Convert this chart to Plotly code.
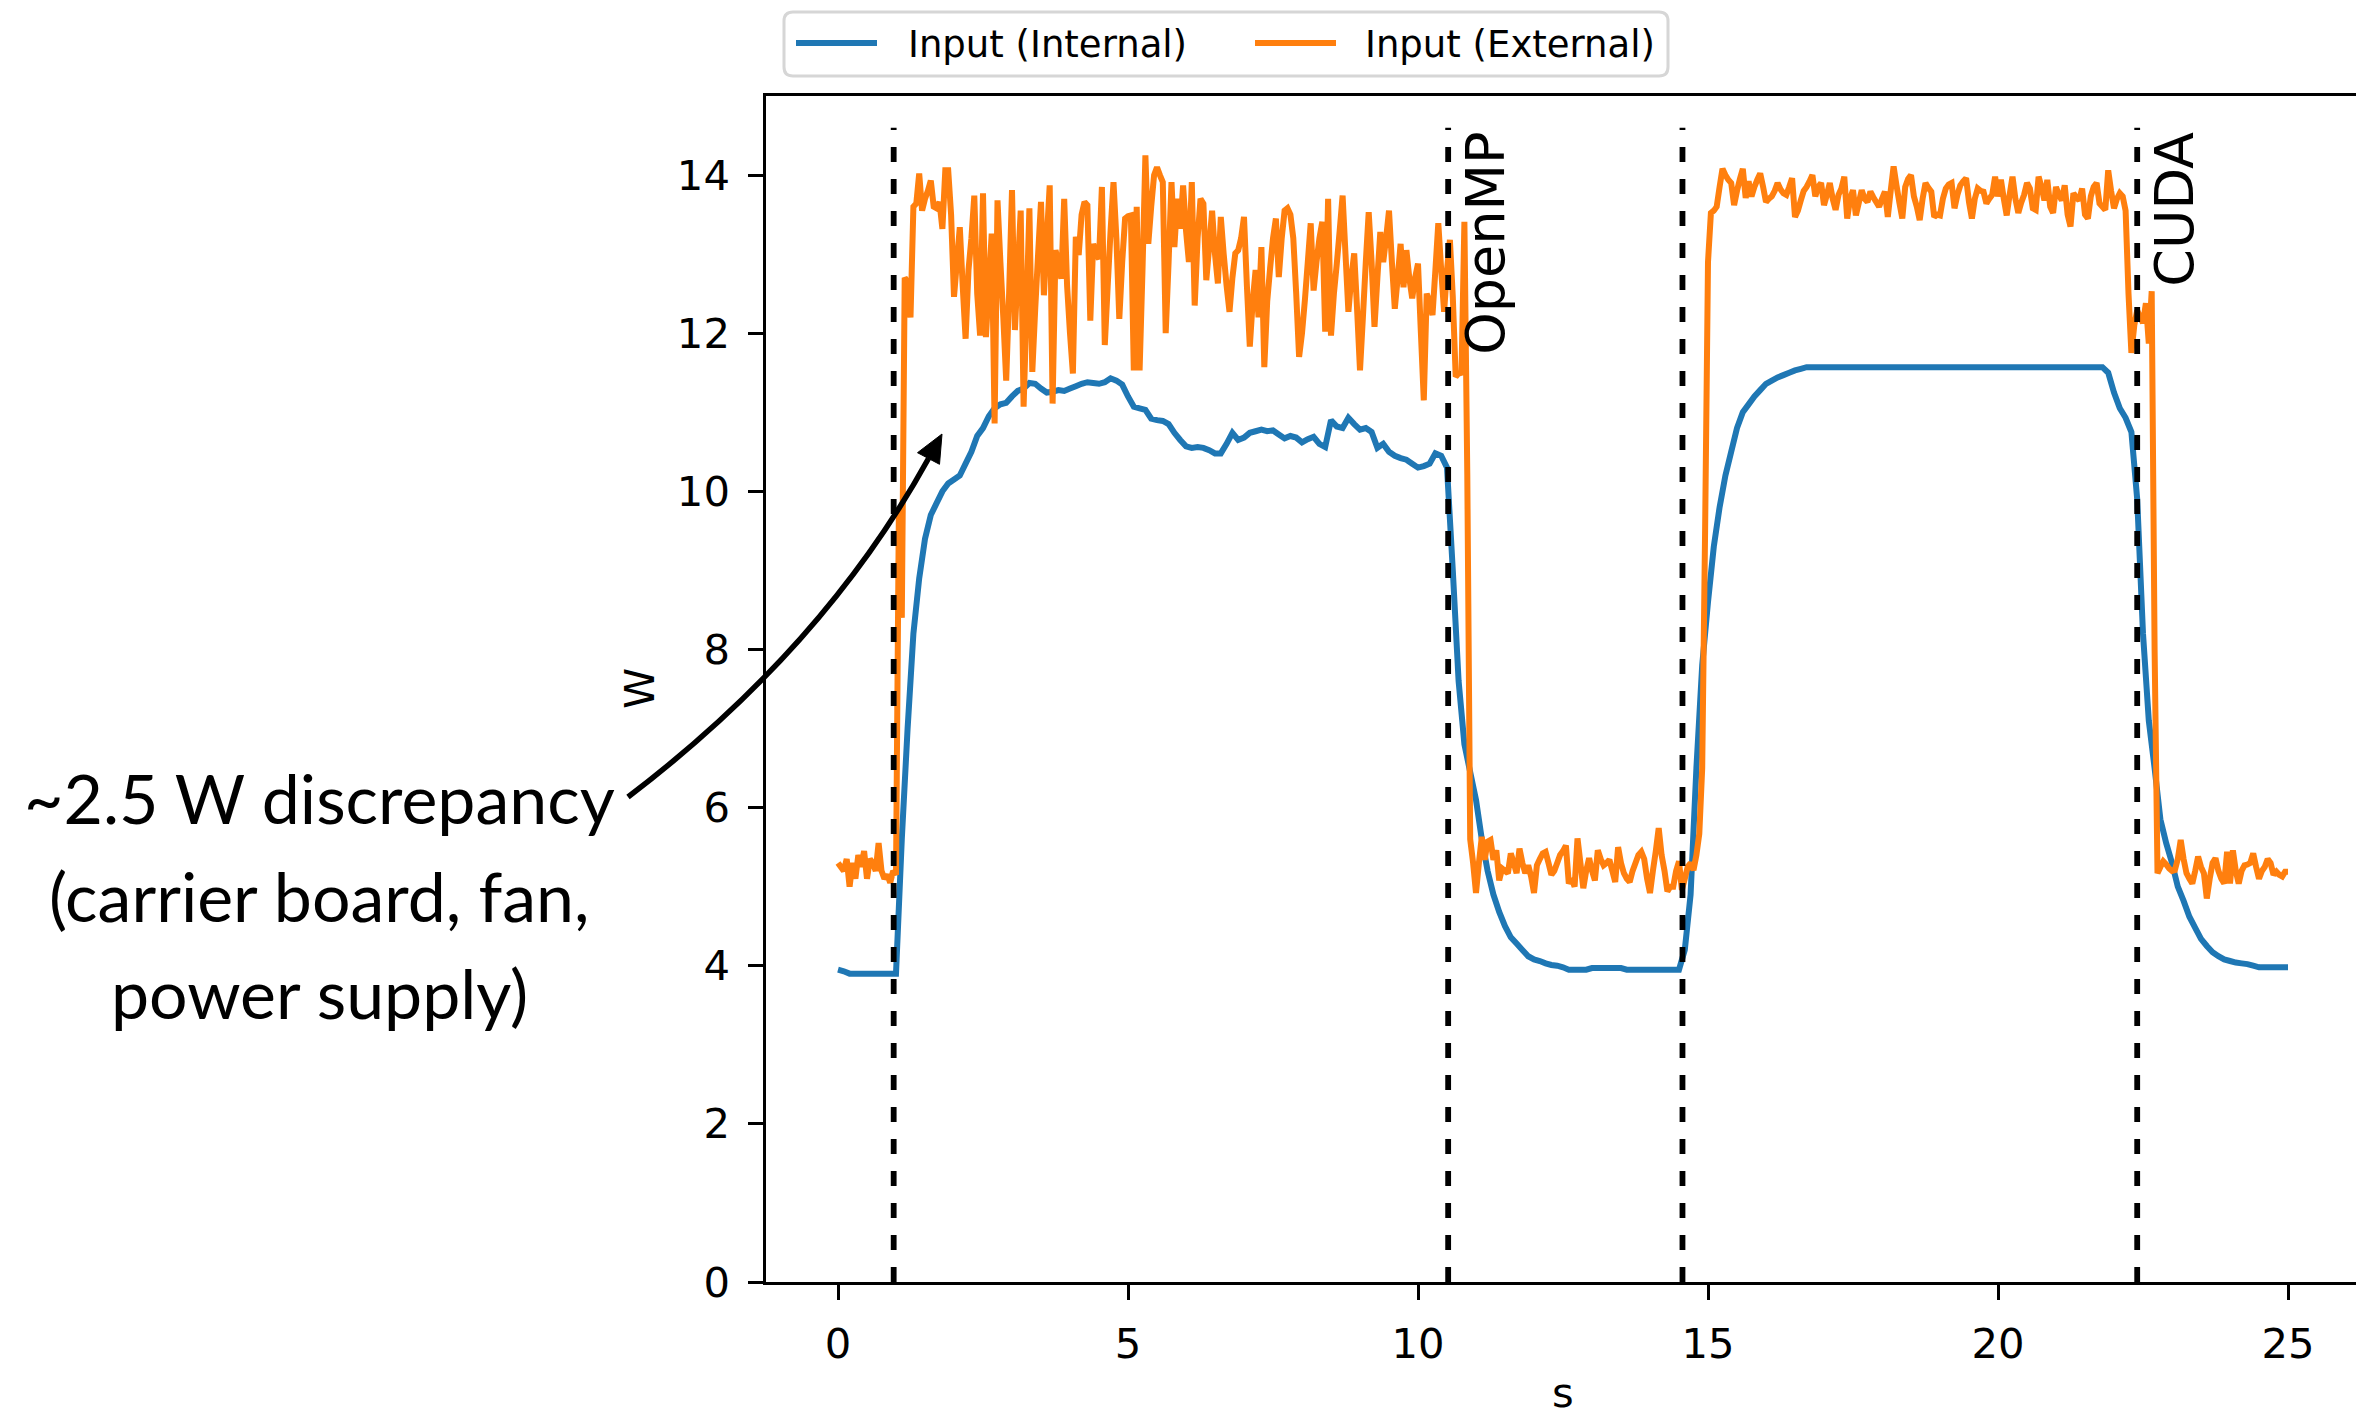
import numpy as np
import plotly.graph_objects as go

# ---------------- data ----------------
# Internal input power, sampled every 0.1 s from 0 to 25 s
w_int = [
    3.95, 3.93, 3.90, 3.90, 3.90, 3.90, 3.90, 3.90, 3.90, 3.90,
    3.90, 5.60, 7.00, 8.20, 8.90, 9.40, 9.70, 9.85, 10.00, 10.10,
    10.15, 10.20, 10.35, 10.50, 10.70, 10.80, 10.95, 11.05, 11.10, 11.12,
    11.20, 11.27, 11.30, 11.37, 11.36, 11.30, 11.25, 11.26, 11.28, 11.27,
    11.30, 11.33, 11.36, 11.38, 11.37, 11.36, 11.38, 11.43, 11.40, 11.35,
    11.20, 11.07, 11.05, 11.03, 10.92, 10.90, 10.89, 10.85, 10.74, 10.65,
    10.57, 10.55, 10.56, 10.55, 10.52, 10.48, 10.48, 10.60, 10.74, 10.65,
    10.68, 10.74, 10.76, 10.78, 10.76, 10.77, 10.72, 10.67, 10.70, 10.68,
    10.62, 10.66, 10.69, 10.60, 10.56, 10.90, 10.82, 10.80, 10.93, 10.85,
    10.78, 10.80, 10.75, 10.55, 10.60, 10.50, 10.45, 10.42, 10.40, 10.35,
    10.30, 10.32, 10.35, 10.48, 10.45, 10.30, 9.00, 7.60, 6.80, 6.45,
    6.10, 5.60, 5.20, 4.90, 4.68, 4.50, 4.36, 4.28, 4.20, 4.12,
    4.08, 4.06, 4.03, 4.01, 4.00, 3.98, 3.95, 3.95, 3.95, 3.95,
    3.97, 3.97, 3.97, 3.97, 3.97, 3.97, 3.95, 3.95, 3.95, 3.95,
    3.95, 3.95, 3.95, 3.95, 3.95, 3.95, 4.20, 4.90, 6.50, 7.80,
    8.60, 9.30, 9.80, 10.20, 10.50, 10.80, 11.00, 11.10, 11.20, 11.28,
    11.36, 11.40, 11.44, 11.47, 11.50, 11.53, 11.55, 11.57, 11.57, 11.57,
    11.57, 11.57, 11.57, 11.57, 11.57, 11.57, 11.57, 11.57, 11.57, 11.57,
    11.57, 11.57, 11.57, 11.57, 11.57, 11.57, 11.57, 11.57, 11.57, 11.57,
    11.57, 11.57, 11.57, 11.57, 11.57, 11.57, 11.57, 11.57, 11.57, 11.57,
    11.57, 11.57, 11.57, 11.57, 11.57, 11.57, 11.57, 11.57, 11.57, 11.57,
    11.57, 11.57, 11.57, 11.57, 11.57, 11.57, 11.57, 11.57, 11.57, 11.50,
    11.25, 11.05, 10.93, 10.75, 9.90, 8.20, 7.10, 6.50, 5.85, 5.55,
    5.30, 5.00, 4.82, 4.62, 4.48, 4.34, 4.25, 4.17, 4.12, 4.08,
    4.06, 4.04, 4.03, 4.02, 4.00, 3.98, 3.98, 3.98, 3.98, 3.98,
    3.98,
]

# External input power, sampled every 0.05 s from 0 to 25 s
w_ext = [
    5.30, 5.25, 5.20, 5.35, 5.00, 5.30, 5.10, 5.40, 5.25, 5.45, 5.10, 5.35, 5.30, 5.20, 5.55, 5.20, 5.10, 5.15, 5.05, 5.20,
    5.15, 9.80, 8.40, 12.70, 12.65, 12.20, 13.60, 13.64, 14.02, 13.55, 13.70, 13.80, 13.93, 13.60, 13.58, 13.66, 13.32, 14.06, 14.06, 13.50,
    12.46, 12.90, 13.34, 12.60, 11.93, 12.80, 13.20, 13.74, 12.50, 11.97, 13.77, 11.95, 12.60, 13.26, 10.86, 13.68, 12.90, 12.20, 11.40, 12.50,
    13.81, 12.04, 12.80, 13.55, 11.07, 12.30, 13.58, 11.51, 12.30, 13.00, 13.66, 12.48, 13.20, 13.87, 11.11, 13.05, 12.90, 12.69, 13.70, 12.60,
    12.00, 11.49, 13.22, 12.99, 13.50, 13.66, 13.62, 12.16, 13.13, 13.00, 12.94, 13.85, 11.85, 12.60, 13.30, 13.91, 13.20, 12.18, 12.90, 13.45,
    13.48, 13.49, 11.53, 13.60, 11.53, 12.80, 14.25, 13.13, 13.60, 14.00, 14.10, 14.00, 13.91, 12.00, 12.90, 13.91, 13.09, 13.70, 13.32, 13.87,
    13.30, 12.90, 13.91, 12.35, 13.20, 13.70, 13.64, 12.67, 13.10, 13.55, 13.00, 12.63, 13.47, 13.00, 12.60, 12.27, 12.70, 13.01, 13.05, 13.20,
    13.47, 12.60, 11.83, 12.40, 12.80, 12.20, 13.09, 11.57, 12.40, 12.82, 13.20, 13.45, 12.71, 13.20, 13.55, 13.58, 13.50, 13.20, 12.50, 11.70,
    12.00, 12.42, 12.90, 13.39, 12.54, 12.90, 13.20, 13.41, 12.02, 13.70, 11.97, 12.50, 12.88, 13.30, 13.74, 13.00, 12.27, 12.70, 13.01, 12.30,
    11.53, 12.20, 12.90, 13.53, 12.90, 12.08, 12.70, 13.28, 12.90, 13.20, 13.55, 12.90, 12.31, 12.70, 13.13, 12.58, 13.05, 12.70, 12.44, 12.70,
    12.88, 12.00, 11.15, 12.50, 12.40, 12.23, 12.80, 13.39, 12.80, 12.27, 12.80, 13.18, 12.46, 11.45, 11.49, 11.50, 13.41, 10.20, 5.60, 5.30,
    4.92, 5.30, 5.63, 5.34, 5.57, 5.59, 5.34, 5.46, 5.08, 5.23, 5.20, 5.17, 5.42, 5.30, 5.17, 5.48, 5.30, 5.17, 5.27, 5.13,
    4.92, 5.27, 5.35, 5.42, 5.44, 5.30, 5.15, 5.20, 5.30, 5.40, 5.45, 5.52, 5.04, 5.10, 5.00, 5.61, 5.30, 4.98, 5.20, 5.36,
    5.20, 5.08, 5.46, 5.35, 5.27, 5.30, 5.34, 5.20, 5.06, 5.50, 5.30, 5.17, 5.10, 5.06, 5.20, 5.30, 5.40, 5.44, 5.35, 5.10,
    4.92, 5.20, 5.45, 5.74, 5.40, 5.20, 4.94, 5.00, 5.00, 5.20, 5.32, 4.96, 5.10, 5.25, 5.30, 5.21, 5.40, 5.67, 6.50, 9.50,
    12.90, 13.52, 13.55, 13.60, 13.85, 14.08, 14.00, 13.94, 13.90, 13.62, 13.80, 13.95, 14.08, 13.71, 13.92, 13.73, 13.85, 13.94, 14.02, 13.85,
    13.66, 13.70, 13.73, 13.80, 13.90, 13.82, 13.77, 13.75, 13.85, 13.96, 13.47, 13.55, 13.68, 13.80, 13.85, 13.92, 14.00, 13.73, 13.85, 13.90,
    13.62, 13.75, 13.90, 13.70, 13.56, 13.75, 13.83, 13.98, 13.45, 13.70, 13.81, 13.49, 13.65, 13.81, 13.70, 13.66, 13.79, 13.72, 13.66, 13.60,
    13.70, 13.79, 13.47, 13.80, 14.11, 13.87, 13.65, 13.45, 13.85, 13.95, 14.00, 13.73, 13.60, 13.43, 13.70, 13.90, 13.84, 13.79, 13.47, 13.50,
    13.49, 13.70, 13.83, 13.88, 13.90, 13.58, 13.75, 13.87, 13.92, 13.96, 13.66, 13.45, 13.70, 13.83, 13.80, 13.79, 13.64, 13.70, 13.75, 13.98,
    13.73, 13.94, 13.70, 13.49, 13.75, 13.98, 13.70, 13.52, 13.65, 13.75, 13.90, 13.83, 13.58, 13.56, 13.98, 13.85, 13.68, 13.94, 13.60, 13.52,
    13.85, 13.75, 13.68, 13.87, 13.50, 13.35, 13.77, 13.72, 13.68, 13.83, 13.50, 13.45, 13.73, 13.85, 13.90, 13.64, 13.60, 13.56, 14.06, 13.80,
    13.58, 13.70, 13.77, 13.73, 13.55, 12.50, 11.75, 12.10, 12.29, 12.20, 12.13, 12.38, 11.87, 12.53, 8.00, 5.17, 5.25, 5.32, 5.28, 5.23,
    5.20, 5.21, 5.35, 5.59, 5.35, 5.17, 5.10, 5.04, 5.20, 5.38, 5.25, 5.17, 4.85, 5.10, 5.30, 5.36, 5.20, 5.10, 5.04, 5.44,
    5.04, 5.46, 5.20, 5.04, 5.20, 5.27, 5.28, 5.30, 5.42, 5.25, 5.10, 5.20, 5.25, 5.35, 5.30, 5.15, 5.19, 5.15, 5.13, 5.19,
    5.19,
]

dt_int = 0.1
dt_ext = 0.05
t_int = np.round(np.arange(len(w_int)) * dt_int, 3)
t_ext = np.round(np.arange(len(w_ext)) * dt_ext, 3)

series_names = ["Input (Internal)", "Input (External)"]
series_colors = ["#1f77b4", "#ff7f0e"]

events = [0.96, 10.52, 14.56, 22.40]
event_labels = ["", "OpenMP", "", "CUDA"]
event_top = 14.6

x_ticks = [0, 5, 10, 15, 20, 25]
y_ticks = [0, 2, 4, 6, 8, 10, 12, 14]

note_lines = ["~2.5 W discrepancy", "(carrier board, fan,", "power supply)"]

# ---------------- layout geometry (window pixels) ----------------
FIG_W, FIG_H = 2356, 1421
L_S, T_S, B_S = 766, 96, 1282          # plot area left, top, bottom
R_S = FIG_W                            # plot area runs to the right edge
PW, PH = R_S - L_S, B_S - T_S


def PX(px):
    return (px - L_S) / PW


def PY(py):
    return (B_S - py) / PH


fig = go.Figure()
fig.add_trace(go.Scatter(x=t_int, y=w_int, mode="lines", name=series_names[0],
                         line=dict(color=series_colors[0], width=6, simplify=False),
                         showlegend=False))
fig.add_trace(go.Scatter(x=t_ext, y=w_ext, mode="lines", name=series_names[1],
                         line=dict(color=series_colors[1], width=6, simplify=False),
                         showlegend=False))

shapes = []
annotations = []

# dashed event markers
for ex, lab in zip(events, event_labels):
    shapes.append(dict(type="line", xref="x", yref="y", x0=ex, x1=ex, y0=0, y1=event_top,
                       line=dict(color="black", width=5.8, dash="15px,17px"), layer="above"))
    if lab:
        annotations.append(dict(x=ex + 0.64, y=14.57, xref="x", yref="y", text=lab,
                                textangle=-90, showarrow=False, xanchor="center", yanchor="top",
                                font=dict(family="DejaVu Sans", size=54, color="black")))

# manual legend (matplotlib-style)
lx0, lx1, ly0, ly1, r = 784, 1668, 12, 76, 9


def rounded_rect(x0, y0, x1, y1, rad):
    return (f"M {PX(x0 + rad)},{PY(y0)} L {PX(x1 - rad)},{PY(y0)} "
            f"Q {PX(x1)},{PY(y0)} {PX(x1)},{PY(y0 + rad)} L {PX(x1)},{PY(y1 - rad)} "
            f"Q {PX(x1)},{PY(y1)} {PX(x1 - rad)},{PY(y1)} L {PX(x0 + rad)},{PY(y1)} "
            f"Q {PX(x0)},{PY(y1)} {PX(x0)},{PY(y1 - rad)} L {PX(x0)},{PY(y0 + rad)} "
            f"Q {PX(x0)},{PY(y0)} {PX(x0 + rad)},{PY(y0)} Z")


shapes.append(dict(type="path", xref="paper", yref="paper", path=rounded_rect(lx0, ly0, lx1, ly1, r),
                   line=dict(color="#d6d6d6", width=3), fillcolor="rgba(255,255,255,0.8)", layer="above"))
leg_items = [(796, 877, 906), (1255, 1336, 1363)]
for (sx0, sx1, tx), name, col in zip(leg_items, series_names, series_colors):
    shapes.append(dict(type="line", xref="paper", yref="paper", x0=PX(sx0), x1=PX(sx1), y0=PY(43), y1=PY(43),
                       line=dict(color=col, width=6), layer="above"))
    annotations.append(dict(x=PX(tx), y=PY(44), xref="paper", yref="paper", text=name, showarrow=False,
                            xanchor="left", yanchor="middle",
                            font=dict(family="DejaVu Sans", size=37, color="black")))

# curved annotation arrow
p0 = (628, 797)
c = (824, 648)
tip = (942, 434)
base = (928.5, 458.5)
shapes.append(dict(type="path", xref="paper", yref="paper",
                   path=f"M {PX(p0[0])},{PY(p0[1])} Q {PX(c[0])},{PY(c[1])} {PX(base[0])},{PY(base[1])}",
                   line=dict(color="black", width=5.5), layer="above"))
shapes.append(dict(type="path", xref="paper", yref="paper",
                   path=(f"M {PX(tip[0])},{PY(tip[1])} L {PX(939.5)},{PY(464.3)} "
                         f"L {PX(917.5)},{PY(452.7)} Z"),
                   line=dict(color="black", width=1), fillcolor="black", layer="above"))

for line_text, cy in zip(note_lines, [797, 895, 993]):
    annotations.append(dict(x=PX(319), y=PY(cy), xref="paper", yref="paper", text=line_text,
                            showarrow=False, xanchor="center", yanchor="middle",
                            font=dict(family="Lato", size=68, color="black")))

# axis titles
annotations.append(dict(x=PX(639), y=PY(689), xref="paper", yref="paper", text="W", textangle=-90,
                        showarrow=False, xanchor="center", yanchor="middle",
                        font=dict(family="DejaVu Sans", size=41.7, color="black")))
annotations.append(dict(x=PX(1563), y=PY(1392), xref="paper", yref="paper", text="s",
                        showarrow=False, xanchor="center", yanchor="middle",
                        font=dict(family="DejaVu Sans", size=41.7, color="black")))

px_per_s = 58.0
x_lo = -(838 - L_S) / px_per_s
x_hi = x_lo + PW / px_per_s

fig.update_layout(
    width=FIG_W, height=FIG_H,
    margin=dict(l=L_S, r=FIG_W - R_S, t=T_S, b=FIG_H - B_S, pad=0),
    paper_bgcolor="white", plot_bgcolor="white",
    showlegend=False,
    shapes=shapes, annotations=annotations,
    xaxis=dict(range=[x_lo, x_hi], tickvals=x_ticks, ticktext=[str(v) for v in x_ticks],
               showgrid=False, zeroline=False, showline=True, linecolor="black", linewidth=3.3,
               mirror=True, ticks="outside", ticklen=14.6, tickwidth=3.3, tickcolor="black",
               tickfont=dict(family="DejaVu Sans", size=41.7, color="black"), ticklabelstandoff=8),
    yaxis=dict(range=[0, 15], tickvals=y_ticks, ticktext=[str(v) for v in y_ticks],
               showgrid=False, zeroline=False, showline=True, linecolor="black", linewidth=3.3,
               mirror=False, ticks="outside", ticklen=14.6, tickwidth=3.3, tickcolor="black",
               tickfont=dict(family="DejaVu Sans", size=41.7, color="black"), ticklabelstandoff=10),
)

fig.write_html(
    "out.html",
    config={"displayModeBar": False},
    post_script="document.body.style.margin='0';document.body.style.padding='0';"
                "document.body.style.overflow='hidden';"
                "document.documentElement.style.overflow='hidden';",
)
